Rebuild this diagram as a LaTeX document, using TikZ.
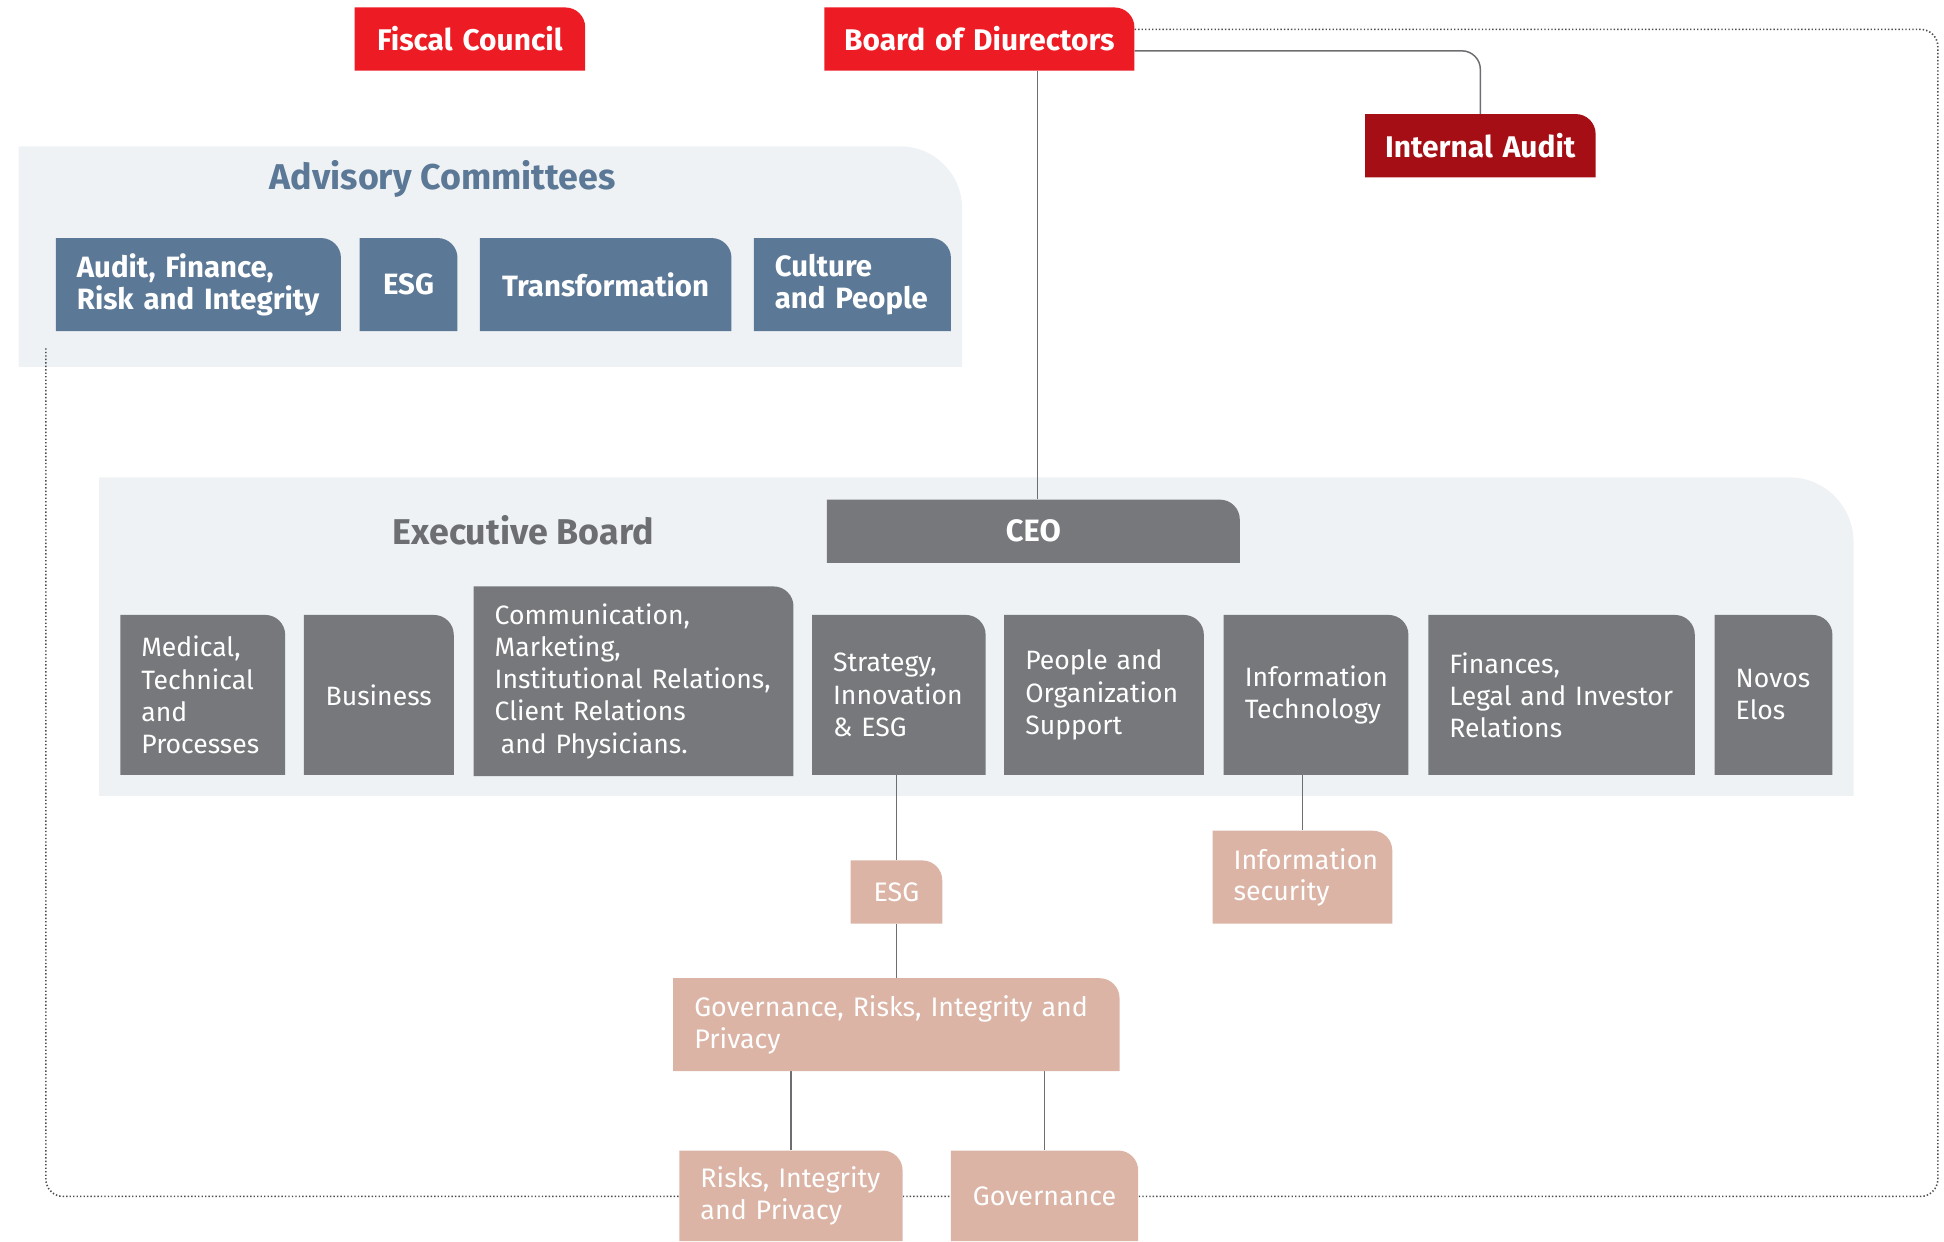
\documentclass[tikz,border=0pt]{standalone}
\usepackage{fontspec}
\setmainfont{Fira Sans}
\usetikzlibrary{calc}
\definecolor{cRed}{HTML}{ED1C24}
\definecolor{cDRed}{HTML}{A50E15}
\definecolor{cBlue}{HTML}{5B7896}
\definecolor{cPanel}{HTML}{EEF2F5}
\definecolor{cGray}{HTML}{77787B}
\definecolor{cTitle}{HTML}{6D6E71}
\definecolor{cPink}{HTML}{DBB4A6}
\definecolor{cLine}{HTML}{6D6E71}
\pgfdeclarelayer{panel}
\pgfdeclarelayer{lines}
\pgfsetlayers{panel,lines,main}
\newcommand\boxr{16}
% #1 fill, #2 text style, #3 pad, #4 name, #5 x1, #6 y1, #7 x2, #8 y2, #9 text
\newcommand\orgbox[9]{%
  \pgfmathsetmacro\obw{#7-#5}%
  \pgfmathsetmacro\obtw{#7-#5-2*#3}%
  \pgfmathsetmacro\obh{#8-#6}%
  \pgfmathsetmacro\obk{0.448*\boxr}%
  \fill[#1] (#5,#8) -- (#5,#6) -- ({#7-\boxr},#6) .. controls ({#7-\obk},#6) and (#7,{#6+\obk}) .. (#7,{#6+\boxr}) -- (#7,#8) -- cycle;
  \node[#2, inner xsep=#3bp, inner ysep=0pt, text width=\obtw bp, minimum width=\obw bp, minimum height=\obh bp] (#4) at ({(#5+#7)/2},{(#6+#8)/2}) {#9};
}
% #1 x1, #2 y1, #3 x2, #4 y2, #5 r
\newcommand\panelfill[5]{%
  \pgfmathsetmacro\opk{0.448*#5}%
  \fill[cPanel] (#1,#4) -- (#1,#2) -- ({#3-#5},#2) .. controls ({#3-\opk},#2) and (#3,{#2+\opk}) .. (#3,{#2+#5}) -- (#3,#4) -- cycle;
}
\tikzset{
  ttl/.style={font=\fontsize{24.2}{28}\selectfont\bfseries, text=white, align=center},
  comtxt/.style={font=\fontsize{23.8}{26}\selectfont\bfseries, text=white, align=left},
  comtxtc/.style={comtxt, align=center},
  ceotxt/.style={font=\fontsize{25}{28}\selectfont\bfseries, text=white, align=center},
  exetxt/.style={font=\fontsize{21.5}{26}\selectfont, text=white, align=left},
  exetxtc/.style={exetxt, align=center},
  pinktxt/.style={font=\fontsize{21.7}{25.5}\selectfont, text=white, align=left},
  pinktxtc/.style={pinktxt, align=center},
  sectitle/.style={font=\fontsize{29}{32}\selectfont\bfseries},
  conn/.style={draw=cLine, line width=1.2bp},
  dotline/.style={draw=cLine!70!black, line width=1.3bp, dash pattern=on 1.1bp off 1.7bp, rounded corners=14},
}
\begin{document}
\begin{tikzpicture}[x=1bp,y=-1bp]
\useasboundingbox (0,0) rectangle (1568,1001);
\begin{pgfonlayer}{panel}
  \panelfill{15}{118}{776}{296}{50}
  \panelfill{80}{385}{1495}{642}{52}
\end{pgfonlayer}
\node[sectitle, text=cBlue] (advt) at (357,144) {Advisory Committees};
\node[sectitle, text=cTitle] (exet) at (422,428) {Executive Board};

\orgbox{cRed}{ttl}{2}{fiscal}{286}{6}{472}{57}{Fiscal Council}
\orgbox{cRed}{ttl}{2}{board}{665}{6}{915}{57}{Board of Diurectors}
\orgbox{cDRed}{ttl}{2}{audit}{1101}{92}{1287}{143}{Internal Audit}

\orgbox{cBlue}{comtxt}{17}{c1}{45}{192}{275}{267}{Audit, Finance,\\Risk and Integrity}
\orgbox{cBlue}{comtxtc}{2}{c2}{290}{192}{369}{267}{ESG}
\orgbox{cBlue}{comtxtc}{2}{c3}{387}{192}{590}{267}{Transformation}
\orgbox{cBlue}{comtxt}{17}{c4}{608}{192}{767}{267}{Culture\\and People}

\orgbox{cGray}{ceotxt}{2}{ceo}{667}{403}{1000}{454}{CEO}

\orgbox{cGray}{exetxt}{17}{e1}{97}{496}{230}{625}{Medical,\\Technical\\and\\Processes}
\orgbox{cGray}{exetxtc}{2}{e2}{245}{496}{366}{625}{Business}
\orgbox{cGray}{exetxt}{17}{e3}{382}{473}{640}{626}{Communication,\\Marketing,\\Institutional Relations,\\Client Relations\\\hspace*{5bp}and Physicians.}
\orgbox{cGray}{exetxt}{17}{e4}{655}{496}{795}{625}{Strategy,\\Innovation\\\& ESG}
\orgbox{cGray}{exetxt}{17}{e5}{810}{496}{971}{625}{People and\\Organization\\Support}
\orgbox{cGray}{exetxt}{17}{e6}{987}{496}{1136}{625}{Information\\Technology}
\orgbox{cGray}{exetxt}{17}{e7}{1152}{496}{1367}{625}{Finances,\\Legal and Investor\\Relations}
\orgbox{cGray}{exetxt}{17}{e8}{1383}{496}{1478}{625}{Novos\\Elos}

\orgbox{cPink}{pinktxtc}{2}{p1}{686}{694}{760}{745}{ESG}
\orgbox{cPink}{pinktxt}{17}{p2}{978}{670}{1123}{745}{Information\\security}
\orgbox{cPink}{pinktxt}{17}{p3}{543}{789}{903}{864}{Governance, Risks, Integrity and\\Privacy}
\orgbox{cPink}{pinktxt}{17}{p4}{548}{928}{728}{1001}{Risks, Integrity\\and Privacy}
\orgbox{cPink}{pinktxtc}{2}{p5}{767}{928}{918}{1001}{Governance}

\coordinate (ceotop) at ($(ceo.north)+(3.5,0)$);
\coordinate (dotend) at (37,280);
\begin{pgfonlayer}{lines}
  \draw[conn] (ceotop |- board.south) -- (ceotop);
  \draw[conn, rounded corners=15] ($(board.east)+(0,9.5)$) -| (audit.north);
  \draw[dotline] ($(board.east)+(0,-7.8)$) -- (1563,23.7) -- (1563,965) -- (37,965) -- (dotend);
  \draw[conn] (e4.south -| p1.north) -- (p1.north);
  \draw[conn] (p1.south) -- (p3.north);
  \draw[conn] (e6.south -| p2.north) -- (p2.north);
  \draw[conn] (p3.south -| p4.north) -- (p4.north);
  \draw[conn] (p3.south -| p5.north) -- (p5.north);
\end{pgfonlayer}
\end{tikzpicture}
\end{document}
